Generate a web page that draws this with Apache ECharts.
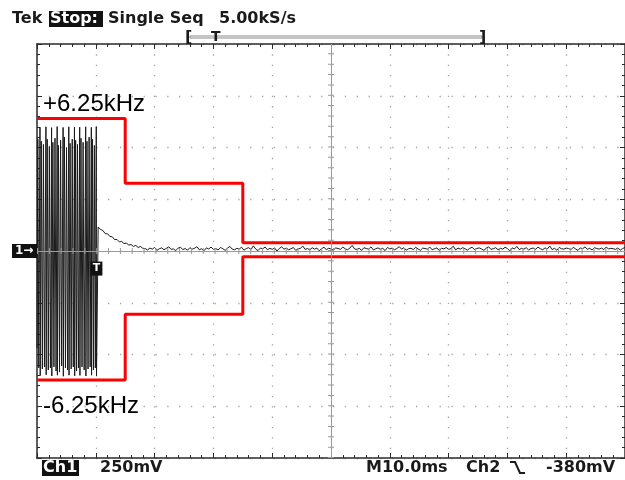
<!DOCTYPE html>
<html>
<head>
<meta charset="utf-8">
<script src="https://cdn.jsdelivr.net/npm/echarts@6/dist/echarts.min.js"></script>
<style>
  html, body { margin: 0; padding: 0; background: #ffffff; }
  #scope { width: 625px; height: 480px; }
</style>
</head>
<body>
<div id="scope"></div>
<script>
// Time axis in ms (10 ms/div), vertical axis in mV (250 mV/div)
const timeMin = 0, timeMax = 100, timeDiv = 10;
const mvMin = -1000, mvMax = 1000, mvDiv = 250;

// Frequency-deviation mask (step edges in ms, limits in mV)
const maskTime = [0, 15, 35, 100];
const maskUpperMv = [640, 327, 40, 40];
const maskLowerMv = [-623, -306, -28, -28];

// Modulated burst at the start of the record
const burstTime = [0.00, 0.14, 0.30,
  0.51, 0.55, 0.73, 0.91, 1.09, 1.27,
  1.52, 1.56, 1.74, 1.92, 2.10, 2.28,
  2.48, 2.52, 2.70, 2.88, 3.06, 3.24,
  3.43, 3.47, 3.65, 3.83, 4.01, 4.19,
  4.44, 4.48, 4.66, 4.84, 5.02, 5.20,
  5.41, 5.45, 5.63, 5.81, 5.99, 6.17,
  6.37, 6.41, 6.57, 6.73, 6.89, 7.05,
  7.26, 7.30, 7.48, 7.66, 7.84, 8.02,
  8.28, 8.32, 8.50, 8.68, 8.86, 9.04,
  9.24, 9.28, 9.44, 9.60, 9.76, 9.92,
  10.08, 10.12];
const burstMv = [-470, 540, -565,
  598, -602, 530, -570, 515, -560,
  600, -598, 540, -575, 505, -565,
  596, -604, 525, -560, 545, -580,
  601, -600, 510, -585, 535, -555,
  597, -605, 550, -565, 500, -575,
  600, -600, 520, -570, 540, -560,
  599, -603, 535, -580, 515, -565,
  598, -601, 545, -560, 525, -575,
  600, -604, 530, -570, 550, -560,
  597, -600, 540, -575, 510, -565,
  601, -603];

// Settling tail after the burst, one sample every 0.4 ms from 10.4 ms
const tailStartMs = 10.4, tailStepMs = 0.4;
const tailMv = [
  116, 104, 99, 84, 83, 70, 69, 55, 56, 44, 46, 36, 38, 29, 31, 22, 27, 17, 22, 13,
  12, 5, 14, 9, 17, 3, 11, 15, 6, 13, 20, 8, 10, 2, 14, 18, 7, 12, 4, 16,
  9, 13, 21, 6, 11, 1, 15, 10, 19, 8, 12, 5, 17, 11, 3, 14, 22, 9, 6, 13,
  10, 18, 4, 12, 16, 7, 25, 9, 2, 14, 11, 19, 6, 13, 8, 15, 0, 12, 20, 9,
  14, 6, 11, 17, 3, 10, 13, 24, 8, 12, 5, 16, 9, 14, 1, 11, 18, 7, 13, 10,
  4, 15, 12, 8, 19, 11, 6, 14, 27, 10, 7, 13, 3, 16, 12, 9, 20, 5, 11, 15,
  8, 13, 2, 17, 10, 14, 6, 12, 21, 9, 16, 4, 11, 13, 7, 18, 10, 3, 14, 12,
  9, 19, 6, 11, 15, 2, 13, 10, 17, 8, 12, 23, 5, 14, 9, 16, 11, 4, 13, 18,
  7, 12, 15, 10, 3, 14, 20, 8, 11, 16, 6, 13, 9, 18, 12, 1, 15, 10, 22, 7,
  13, 9, 16, 5, 12, 14, 8, 19, 11, 6, 15, 10, 24, 7, 13, 4, 17, 11, 9, 14,
  12, 6, 18, 10, 3, 15, 11, 20, 8, 13, 5, 16, 12, 9, 14, 7, 19, 10, 13, 11,
  8, 15, 4, 12, 17, 9, 13
];

// Trigger point marker
const triggerMs = 10.1;
const triggerMarkMv = -85;

// Readout texts
const headerTek = 'Tek';
const headerState = 'Stop:';
const headerMode = 'Single Seq';
const headerRate = '5.00kS/s';
const footerCh = 'Ch1';
const footerScale = '250mV';
const footerTime = 'M10.0ms';
const footerTrig = 'Ch2';
const footerLevel = '-380mV';
const upperLabel = '+6.25kHz';
const lowerLabel = '-6.25kHz';

const trace = [];
burstTime.forEach((t, i) => trace.push([t, burstMv[i]]));
tailMv.forEach((v, i) => trace.push([tailStartMs + i * tailStepMs, v]));

const upperMask = maskTime.map((t, i) => [t, maskUpperMv[i]]);
const lowerMask = maskTime.map((t, i) => [t, maskLowerMv[i]]);

const GRID = { left: 37, top: 44, width: 592, height: 414 };
const minorX = GRID.width / ((timeMax - timeMin) / timeDiv) / 5;
const minorY = GRID.height / ((mvMax - mvMin) / mvDiv) / 5;

const frameColor = '#2a2a2a';
const dotColor = '#a4a4a4';
const readoutFont = 'DejaVu Sans';

function frameAxis(extra) {
  return Object.assign({
    type: 'value',
    axisLine: { show: true, onZero: false, lineStyle: { color: frameColor, width: 1.5 } },
    axisTick: { show: true, inside: true, length: 5, lineStyle: { color: frameColor, width: 1 } },
    minorTick: { show: true, splitNumber: 5, length: 3, lineStyle: { color: frameColor, width: 1 } },
    axisLabel: { show: false },
    splitLine: { show: false }
  }, extra);
}

const chart = echarts.init(document.getElementById('scope'), null, { renderer: 'canvas' });

chart.setOption({
  animation: false,
  backgroundColor: '#ffffff',
  grid: Object.assign({ containLabel: false }, GRID),
  xAxis: [
    frameAxis({
      position: 'bottom', min: timeMin, max: timeMax, interval: timeDiv,
      splitLine: { show: true, lineStyle: { color: dotColor, width: 1.3, type: [1.3, minorY - 1.3] } }
    }),
    frameAxis({ position: 'top', min: timeMin, max: timeMax, interval: timeDiv })
  ],
  yAxis: [
    frameAxis({
      position: 'left', min: mvMin, max: mvMax, interval: mvDiv,
      splitLine: { show: true, lineStyle: { color: dotColor, width: 1.3, type: [1.3, minorX - 1.3] } }
    }),
    frameAxis({ position: 'right', min: mvMin, max: mvMax, interval: mvDiv })
  ],
  series: [
    {
      // centre graticule cross with minor-division ticks
      name: 'graticule', type: 'line', data: [], silent: true, z: 1,
      markLine: {
        silent: true, symbol: 'none', animation: false, label: { show: false },
        data: [
          { xAxis: (timeMin + timeMax) / 2, lineStyle: { color: '#9a9a9a', width: 1, type: 'solid' } },
          { yAxis: 0, lineStyle: { color: '#9a9a9a', width: 1, type: 'solid' } },
          { xAxis: (timeMin + timeMax) / 2, lineStyle: { color: '#9a9a9a', width: 6, type: [1, minorY - 1] } },
          { yAxis: 0, lineStyle: { color: '#9a9a9a', width: 6, type: [1, minorX - 1] } }
        ]
      }
    },
    {
      name: 'Ch1', type: 'line', data: trace, showSymbol: false, z: 3,
      lineStyle: { color: '#1a1a1a', width: 1 }
    },
    {
      name: 'upper limit', type: 'line', data: upperMask, step: 'end', showSymbol: false, z: 4,
      lineStyle: { color: '#ff0000', width: 3 }
    },
    {
      name: 'lower limit', type: 'line', data: lowerMask, step: 'end', showSymbol: false, z: 4,
      lineStyle: { color: '#ff0000', width: 3 }
    }
  ]
});

const toPx = (t, mv) => chart.convertToPixel({ xAxisIndex: 0, yAxisIndex: 0 }, [t, mv]);
const groundPx = toPx(timeMin, 0);
const trigPx = toPx(triggerMs, triggerMarkMv);

function txt(x, y, text, opts) {
  return {
    type: 'text', x: x, y: y, z: 20,
    style: Object.assign({
      text: text, fill: '#1a1a1a', font: 'bold 16px "' + readoutFont + '"',
      textVerticalAlign: 'middle', textAlign: 'left'
    }, opts || {})
  };
}

chart.setOption({
  graphic: [
    // header readout
    txt(12, 19, headerTek),
    { type: 'rect', z: 20, shape: { x: 49, y: 11, width: 54, height: 16 }, style: { fill: '#111111' } },
    txt(50, 19, headerState, { fill: '#ffffff' }),
    txt(108, 19, headerMode),
    txt(219, 19, headerRate),
    // record view bar
    { type: 'rect', z: 20, shape: { x: 190, y: 36, width: 292, height: 2 }, style: { fill: 'none', stroke: '#8a8a8a', lineWidth: 1 } },
    txt(185, 38, '[', { font: 'bold 16px "' + readoutFont + '"' }),
    txt(479, 38, ']', { font: 'bold 16px "' + readoutFont + '"' }),
    txt(211, 37, 'T', { font: 'bold 14px "' + readoutFont + '"' }),
    // footer readout
    { type: 'rect', z: 20, shape: { x: 42, y: 460, width: 37, height: 16 }, style: { fill: '#111111' } },
    txt(43, 468, footerCh, { fill: '#ffffff' }),
    txt(100, 468, footerScale),
    txt(366, 468, footerTime),
    txt(466, 468, footerTrig),
    { type: 'polyline', z: 20, shape: { points: [[510, 462], [515, 462], [520, 473], [525, 473]] }, style: { stroke: '#1a1a1a', lineWidth: 2, fill: 'none' } },
    txt(546, 468, footerLevel),
    // channel ground marker
    { type: 'rect', z: 20, shape: { x: 12, y: groundPx[1] - 7, width: 25, height: 14 }, style: { fill: '#111111' } },
    txt(15, groundPx[1], '1\u2192', { fill: '#ffffff', font: 'bold 12px "' + readoutFont + '"' }),
    // trigger marker
    { type: 'rect', z: 20, shape: { x: trigPx[0] - 6, y: trigPx[1] - 7, width: 12, height: 14 }, style: { fill: '#111111' } },
    txt(trigPx[0], trigPx[1], 'T', { fill: '#ffffff', textAlign: 'center', font: 'bold 11px "' + readoutFont + '"' }),
    // mask annotations
    txt(43, 104, upperLabel, { fill: '#000000', font: '24px "Liberation Sans"' }),
    txt(43, 406, lowerLabel, { fill: '#000000', font: '24px "Liberation Sans"' })
  ]
});
</script>
</body>
</html>
